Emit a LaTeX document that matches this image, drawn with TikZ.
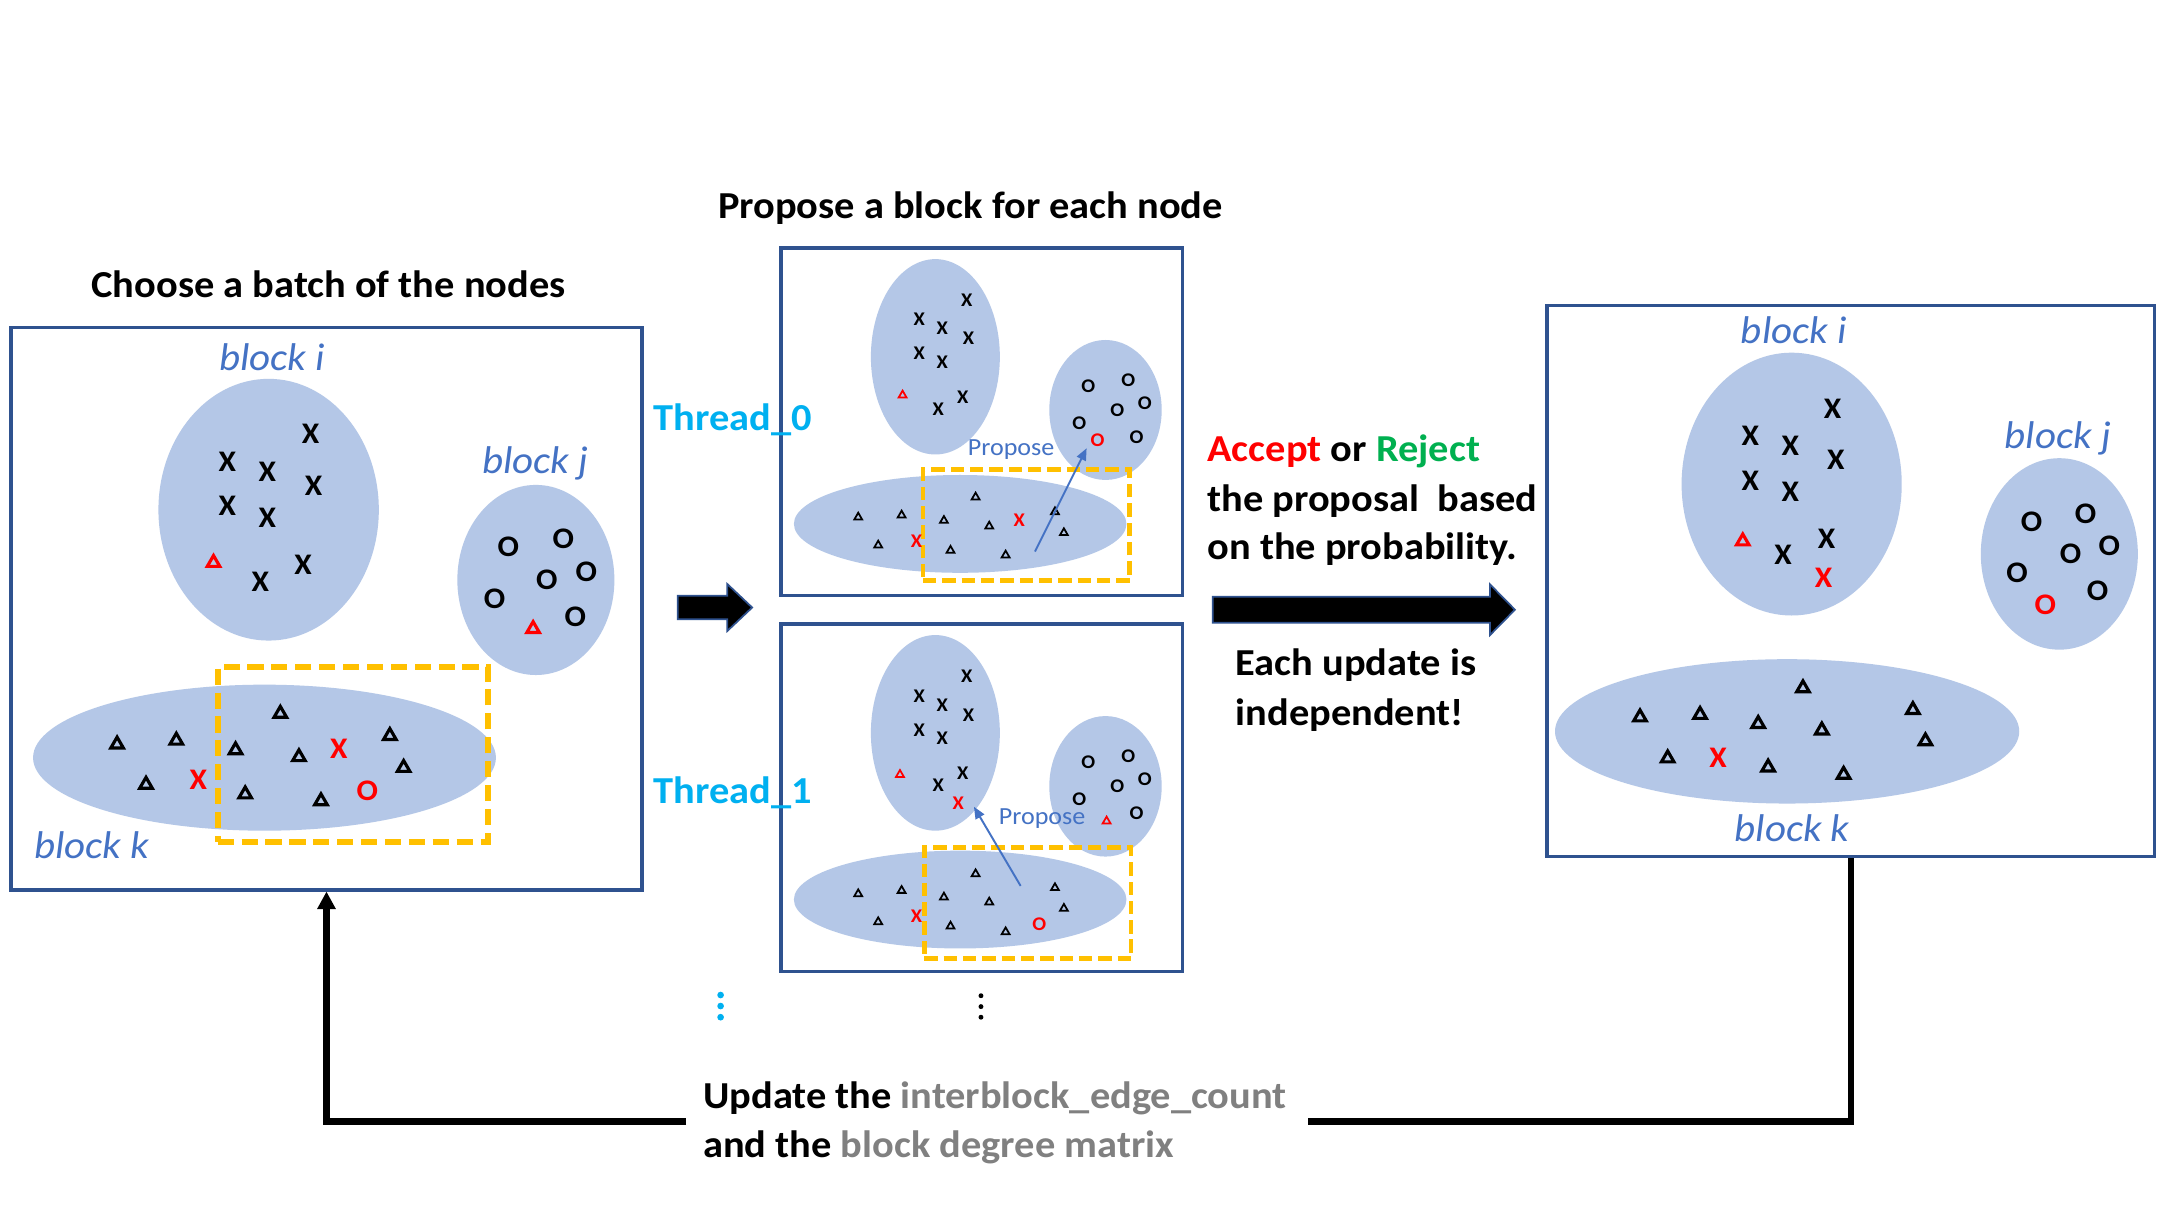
\documentclass[tikz,border=0pt]{standalone}
\usepackage{fontspec}
\setmainfont{Carlito}[FakeStretch=1.06]
\usetikzlibrary{shapes.geometric,arrows.meta}
\definecolor{boxblue}{RGB}{47,82,143}
\definecolor{blkfill}{RGB}{180,199,231}
\definecolor{lblblue}{RGB}{68,114,196}
\definecolor{ygold}{RGB}{255,192,0}
\definecolor{cyanT}{RGB}{0,176,240}
\definecolor{redM}{RGB}{255,0,0}
\definecolor{greenR}{RGB}{0,176,80}
\definecolor{grayT}{RGB}{128,128,128}
\newcommand{\pxu}{0.013775cm}
\begin{document}
\begin{tikzpicture}[x=0.013775cm, y=-0.013775cm,
  frame/.style={draw=boxblue, line width=0.9pt, inner sep=0},
  blob/.style={ellipse, fill=blkfill, inner sep=0},
  ydash/.style={draw=ygold, line width=1.7pt, dash pattern=on 4.6pt off 2.2pt, inner sep=0},
  sydash/.style={draw=ygold, line width=1.4pt, dash pattern=on 3.8pt off 1.7pt, inner sep=0},
  bX/.style={font=\bfseries\fontsize{8.5}{8.5}\selectfont, inner sep=0},
  sX/.style={font=\bfseries\fontsize{5.5}{5.5}\selectfont, inner sep=0},
  bT/.style={regular polygon, regular polygon sides=3, draw=black, line width=0.9pt, minimum size=10.5*\pxu, inner sep=0, yshift=-0.6pt},
  sT/.style={regular polygon, regular polygon sides=3, draw=black, line width=0.5pt, minimum size=6.6*\pxu, inner sep=0, yshift=-0.35pt},
  hd/.style={font=\bfseries\fontsize{10.85}{13}\selectfont, inner sep=0},
  lbl/.style={font=\itshape\fontsize{11}{11}\selectfont, text=lblblue, inner sep=0},
  prop/.style={font=\fontsize{7}{7}\selectfont, text=lblblue, inner sep=0},
  parrow/.style={draw=lblblue, line width=0.55pt, -{Triangle[length=3.4pt, width=2.8pt]}},
  barrow/.style={fill=black, draw=boxblue, line width=0.5pt},
  fb/.style={line width=1.8pt, line join=miter}
]
\useasboundingbox (0,0) rectangle (1568,882);
\fill[white] (0,0) rectangle (1568,882);

% ---------------- Left panel ----------------
\node[frame, minimum width=458*\pxu, minimum height=408*\pxu] (L) at (237,442) {};
\node[blob, minimum width=160*\pxu, minimum height=190*\pxu] (Li) at (195,370) {};
\node[blob, minimum width=114*\pxu, minimum height=138*\pxu] (Lj) at (389,421) {};
\node[blob, minimum width=336*\pxu, minimum height=106*\pxu] (Lk) at (192,550) {};
\node[ydash, minimum width=196*\pxu, minimum height=127*\pxu] (Ly) at (256,547.5) {};
\foreach \x/\y [count=\n] in {225.5/315, 165/335, 194/342.5, 227.6/353, 165/367.5, 194/376, 220/410, 189/422}
  \node[bX, name=LiX\n] at (\x,\y) {X};
\node[bT, draw=redM] (LiT) at (155,407) {};
\foreach \x/\y [count=\n] in {369/397, 409/391, 425.6/415, 397/421, 359/434.5, 417.7/448}
  \node[bX, name=LjO\n] at (\x,\y) {O};
\node[bT, draw=redM] (LjT) at (387,455) {};
\foreach \x/\y [count=\n] in {85/538.8, 128/536, 106/568, 171/543, 203.5/516.5, 217/548, 283/532.6, 293/555.8, 178/575, 233/580}
  \node[bT, name=LkT\n] at (\x,\y) {};
\node[bX, text=redM] (LkX1) at (144,566) {X};
\node[bX, text=redM] (LkX2) at (246,543.6) {X};
\node[bX, text=redM] (LkO) at (266.7,574) {O};
\node[lbl, anchor=base] (Lli) at (197.4,268.6) {block i};
\node[lbl, anchor=base] (Llj) at (388.8,343.9) {block j};
\node[lbl, anchor=base] (Llk) at (66.5,623.5) {block k};
\node[hd, anchor=base] (title1) at (238.5,216) {Choose a batch of the nodes};

% small block arrow
\path[barrow] (492,432.5) -- (528,432.5) -- (528,424) -- (546,441) -- (528,458) -- (528,449.5) -- (492,449.5) -- cycle;

% ---------------- Thread 0 ----------------
\node[hd, anchor=base] (title2) at (704.5,158.8) {Propose a block for each node};
\node[frame, minimum width=291.5*\pxu, minimum height=252*\pxu] (T0) at (712.7,306) {};
\node[blob, minimum width=93.6*\pxu, minimum height=141.8*\pxu] (T0i) at (679,259) {};
\node[blob, minimum width=81.6*\pxu, minimum height=101.6*\pxu] (T0j) at (802.5,297.6) {};
\node[blob, minimum width=241.4*\pxu, minimum height=71*\pxu] (T0k) at (697,380.3) {};
\node[sydash, minimum width=150*\pxu, minimum height=80.5*\pxu] (T0y) at (745,381.25) {};
\foreach \x/\y [count=\n] in {701.7/217.8, 667.3/231.8, 684/238.3, 703.1/245.8, 667.3/256.5, 684/263.2, 698.8/288.4, 681.1/297.1}
  \node[sX, name=T0iX\n] at (\x,\y) {X};
\node[sT, draw=redM] (T0iT) at (655.2,286) {};
\foreach \x/\y [count=\n] in {790/280.7, 819/276.3, 831.1/292.8, 811/298.1, 783.4/307.3, 825.1/317.4}
  \node[sX, name=T0jO\n] at (\x,\y) {O};
\node[sX, text=redM] (T0jR) at (796.8,319.4) {O};
\foreach \x/\y [count=\n] in {623/374.6, 654.5/373.1, 637.5/394.9, 685.2/377, 708.2/360, 718.1/381.1, 765.8/370.7, 772.3/385.9, 690/398.7, 730/402.1}
  \node[sT, name=T0kT\n] at (\x,\y) {};
\node[sX, text=redM] (T0kX1) at (665.4,392.7) {X};
\node[sX, text=redM] (T0kX2) at (739.9,377.5) {X};
\node[prop, anchor=base] (T0p) at (734,331) {Propose};
\coordinate (T0a) at (751.3,400.4);
\coordinate (T0b) at (788.8,325.4);
\draw[parrow] (T0a) -- (T0b);
\node[hd, anchor=base west, text=cyanT] (th0) at (473.8,312.5) {Thread\_0};

% ---------------- Thread 1 ----------------
\node[frame, minimum width=291.5*\pxu, minimum height=252*\pxu] (T1) at (712.7,579) {};
\node[blob, minimum width=93.6*\pxu, minimum height=142*\pxu] (T1i) at (679,532) {};
\node[blob, minimum width=81.6*\pxu, minimum height=102*\pxu] (T1j) at (802.5,570.8) {};
\node[blob, minimum width=241.4*\pxu, minimum height=71*\pxu] (T1k) at (697,653) {};
\node[sydash, minimum width=150*\pxu, minimum height=81*\pxu] (T1y) at (746,655.5) {};
\foreach \x/\y [count=\n] in {701.7/490.7, 667.3/505.2, 684/511.8, 703.1/519, 667.3/530.4, 684/536, 698.8/561.4, 681.1/569.8}
  \node[sX, name=T1iX\n] at (\x,\y) {X};
\node[sT, draw=redM] (T1iT) at (653.3,561.4) {};
\node[sX, text=redM] (T1iR) at (695.6,583.1) {X};
\foreach \x/\y [count=\n] in {790/553.6, 819/549.3, 831.1/565.7, 811/570.6, 783.4/580.2, 825.1/590.4}
  \node[sX, name=T1jO\n] at (\x,\y) {O};
\node[sT, draw=redM] (T1jT) at (803.3,595.2) {};
\foreach \x/\y [count=\n] in {623/648, 654.5/645.6, 637.5/668.3, 685.2/650.4, 708.2/633.5, 718.1/654, 765.8/643.6, 772.3/658.6, 690/671.5, 730/675.6}
  \node[sT, name=T1kT\n] at (\x,\y) {};
\node[sX, text=redM] (T1kX) at (665.4,665.4) {X};
\node[sX, text=redM] (T1kO) at (754.4,671) {O};
\node[prop, anchor=base] (T1p) at (756.5,598.5) {Propose};
\coordinate (T1a) at (740.9,643.1);
\coordinate (T1b) at (707,585.6);
\draw[parrow] (T1a) -- (T1b);
\node[hd, anchor=base west, text=cyanT] (th1) at (473.8,583.5) {Thread\_1};

% vertical ellipses
\foreach \y [count=\n] in {722.3,730.3,738.4}
  \fill[cyanT] (523.1,\y) circle[radius=0.95pt];
\foreach \y [count=\n] in {722.8,730.7,738.4}
  \fill[black] (712.1,\y) circle[radius=0.7pt];

% ---------------- Accept / Reject ----------------
\node[hd, anchor=base west] (acc1) at (876,335) {\textcolor{redM}{Accept} or \textcolor{greenR}{Reject}};
\node[hd, anchor=base west] (acc2) at (876,371) {the proposal~ based};
\node[hd, anchor=base west] (acc3) at (876,406) {on the probability.};
\path[barrow] (880.3,433.1) -- (1081.6,433.1) -- (1081.6,424.2) -- (1099.7,442.6) -- (1081.6,461) -- (1081.6,452) -- (880.3,452) -- cycle;
\node[hd, anchor=base west] (ind1) at (896.5,490.5) {Each update is};
\node[hd, anchor=base west] (ind2) at (896.5,526.5) {independent!};

% ---------------- Right panel ----------------
\node[frame, minimum width=441*\pxu, minimum height=400*\pxu] (R) at (1343.5,422) {};
\node[blob, minimum width=159.8*\pxu, minimum height=190.8*\pxu] (Ri) at (1300.6,351.4) {};
\node[blob, minimum width=114*\pxu, minimum height=139*\pxu] (Rj) at (1494.9,402.1) {};
\node[blob, minimum width=337*\pxu, minimum height=104.8*\pxu] (Rk) at (1297.3,530.9) {};
\foreach \x/\y [count=\n] in {1330.3/296.4, 1270.6/316, 1299.6/323.9, 1332.6/333.9, 1270.6/348.9, 1299.6/357.1, 1326/391.4, 1294.4/403}
  \node[bX, name=RiX\n] at (\x,\y) {X};
\node[bT, draw=redM] (RiT) at (1265.1,391.4) {};
\node[bX, text=redM] (RiR) at (1323.7,419.7) {X};
\foreach \x/\y [count=\n] in {1474.7/378.8, 1514/372.7, 1531.2/395.9, 1503.1/402, 1464.3/415.7, 1522.6/428.9}
  \node[bX, name=RjO\n] at (\x,\y) {O};
\node[bX, text=redM] (RjR) at (1484.7,438.9) {O};
\foreach \x/\y [count=\n] in {1190.5/519.1, 1234.1/517.3, 1210.6/548.9, 1276.3/523.9, 1308.8/498, 1322.5/528.6, 1388.6/513.8, 1397.7/536.5, 1283.5/555.5, 1338.3/560.8}
  \node[bT, name=RkT\n] at (\x,\y) {};
\node[bX, text=redM] (RkX) at (1247.1,550.3) {X};
\node[lbl, anchor=base] (Rli) at (1302.2,249.4) {block i};
\node[lbl, anchor=base] (Rlj) at (1493.9,325.5) {block j};
\node[lbl, anchor=base] (Rlk) at (1300.9,611) {block k};

% ---------------- Feedback loop ----------------
\coordinate (gapR) at (949.5,814);
\coordinate (gapL) at (498,814);
\draw[fb] (R.south) |- (gapR);
\draw[fb, -{Triangle[length=5pt, width=5pt]}] (gapL) -| (L.south);
\node[hd, anchor=base west] (upd1) at (510,805) {Update the \textcolor{grayT}{interblock\_edge\_count}};
\node[hd, anchor=base west] (upd2) at (510,840) {and the \textcolor{grayT}{block degree matrix}};
\end{tikzpicture}
\end{document}
